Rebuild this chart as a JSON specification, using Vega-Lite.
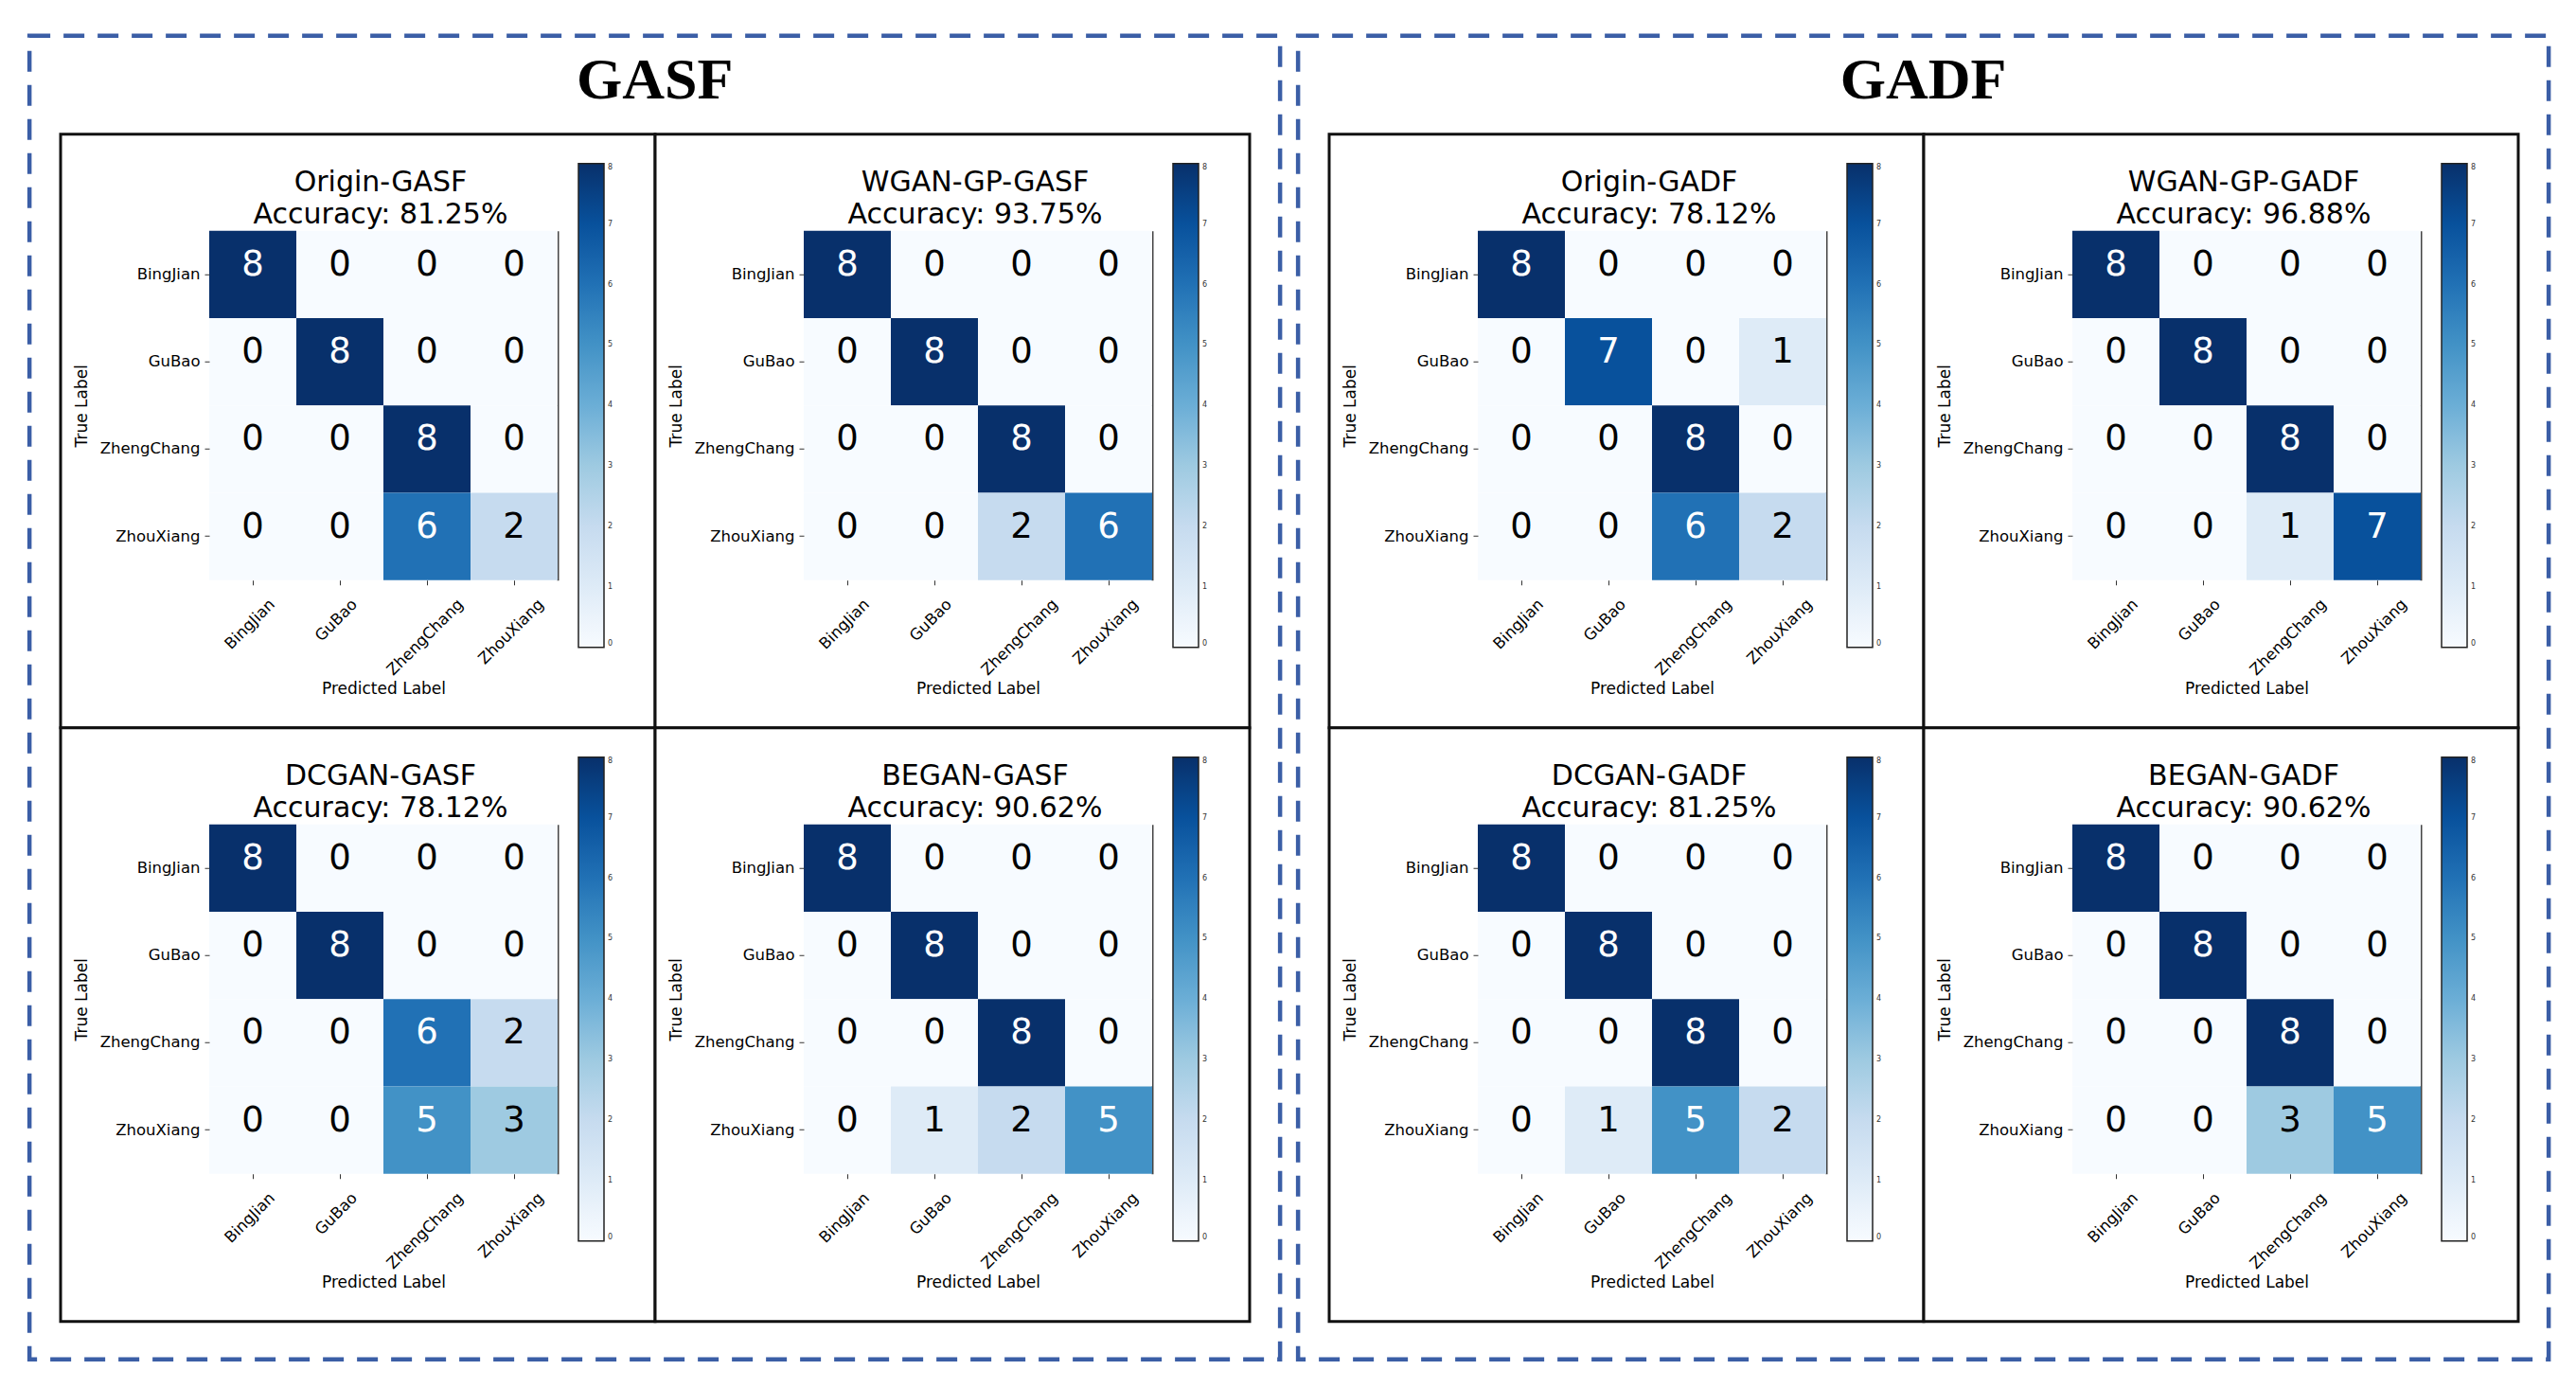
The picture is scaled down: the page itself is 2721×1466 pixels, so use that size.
{
  "$schema": "https://vega.github.io/schema/vega-lite/v6.json",
  "background": "white",
  "padding": {"left": 28.75, "top": 34.75, "right": 26, "bottom": 29},
  "datasets": {
    "groups": [{"group": "GASF"}, {"group": "GADF"}],
    "cm": [
      {"panel":"Origin-GASF","actual":"BingJian","predicted":"BingJian","count":8},
      {"panel":"Origin-GASF","actual":"BingJian","predicted":"GuBao","count":0},
      {"panel":"Origin-GASF","actual":"BingJian","predicted":"ZhengChang","count":0},
      {"panel":"Origin-GASF","actual":"BingJian","predicted":"ZhouXiang","count":0},
      {"panel":"Origin-GASF","actual":"GuBao","predicted":"BingJian","count":0},
      {"panel":"Origin-GASF","actual":"GuBao","predicted":"GuBao","count":8},
      {"panel":"Origin-GASF","actual":"GuBao","predicted":"ZhengChang","count":0},
      {"panel":"Origin-GASF","actual":"GuBao","predicted":"ZhouXiang","count":0},
      {"panel":"Origin-GASF","actual":"ZhengChang","predicted":"BingJian","count":0},
      {"panel":"Origin-GASF","actual":"ZhengChang","predicted":"GuBao","count":0},
      {"panel":"Origin-GASF","actual":"ZhengChang","predicted":"ZhengChang","count":8},
      {"panel":"Origin-GASF","actual":"ZhengChang","predicted":"ZhouXiang","count":0},
      {"panel":"Origin-GASF","actual":"ZhouXiang","predicted":"BingJian","count":0},
      {"panel":"Origin-GASF","actual":"ZhouXiang","predicted":"GuBao","count":0},
      {"panel":"Origin-GASF","actual":"ZhouXiang","predicted":"ZhengChang","count":6},
      {"panel":"Origin-GASF","actual":"ZhouXiang","predicted":"ZhouXiang","count":2},

      {"panel":"WGAN-GP-GASF","actual":"BingJian","predicted":"BingJian","count":8},
      {"panel":"WGAN-GP-GASF","actual":"BingJian","predicted":"GuBao","count":0},
      {"panel":"WGAN-GP-GASF","actual":"BingJian","predicted":"ZhengChang","count":0},
      {"panel":"WGAN-GP-GASF","actual":"BingJian","predicted":"ZhouXiang","count":0},
      {"panel":"WGAN-GP-GASF","actual":"GuBao","predicted":"BingJian","count":0},
      {"panel":"WGAN-GP-GASF","actual":"GuBao","predicted":"GuBao","count":8},
      {"panel":"WGAN-GP-GASF","actual":"GuBao","predicted":"ZhengChang","count":0},
      {"panel":"WGAN-GP-GASF","actual":"GuBao","predicted":"ZhouXiang","count":0},
      {"panel":"WGAN-GP-GASF","actual":"ZhengChang","predicted":"BingJian","count":0},
      {"panel":"WGAN-GP-GASF","actual":"ZhengChang","predicted":"GuBao","count":0},
      {"panel":"WGAN-GP-GASF","actual":"ZhengChang","predicted":"ZhengChang","count":8},
      {"panel":"WGAN-GP-GASF","actual":"ZhengChang","predicted":"ZhouXiang","count":0},
      {"panel":"WGAN-GP-GASF","actual":"ZhouXiang","predicted":"BingJian","count":0},
      {"panel":"WGAN-GP-GASF","actual":"ZhouXiang","predicted":"GuBao","count":0},
      {"panel":"WGAN-GP-GASF","actual":"ZhouXiang","predicted":"ZhengChang","count":2},
      {"panel":"WGAN-GP-GASF","actual":"ZhouXiang","predicted":"ZhouXiang","count":6},

      {"panel":"DCGAN-GASF","actual":"BingJian","predicted":"BingJian","count":8},
      {"panel":"DCGAN-GASF","actual":"BingJian","predicted":"GuBao","count":0},
      {"panel":"DCGAN-GASF","actual":"BingJian","predicted":"ZhengChang","count":0},
      {"panel":"DCGAN-GASF","actual":"BingJian","predicted":"ZhouXiang","count":0},
      {"panel":"DCGAN-GASF","actual":"GuBao","predicted":"BingJian","count":0},
      {"panel":"DCGAN-GASF","actual":"GuBao","predicted":"GuBao","count":8},
      {"panel":"DCGAN-GASF","actual":"GuBao","predicted":"ZhengChang","count":0},
      {"panel":"DCGAN-GASF","actual":"GuBao","predicted":"ZhouXiang","count":0},
      {"panel":"DCGAN-GASF","actual":"ZhengChang","predicted":"BingJian","count":0},
      {"panel":"DCGAN-GASF","actual":"ZhengChang","predicted":"GuBao","count":0},
      {"panel":"DCGAN-GASF","actual":"ZhengChang","predicted":"ZhengChang","count":6},
      {"panel":"DCGAN-GASF","actual":"ZhengChang","predicted":"ZhouXiang","count":2},
      {"panel":"DCGAN-GASF","actual":"ZhouXiang","predicted":"BingJian","count":0},
      {"panel":"DCGAN-GASF","actual":"ZhouXiang","predicted":"GuBao","count":0},
      {"panel":"DCGAN-GASF","actual":"ZhouXiang","predicted":"ZhengChang","count":5},
      {"panel":"DCGAN-GASF","actual":"ZhouXiang","predicted":"ZhouXiang","count":3},

      {"panel":"BEGAN-GASF","actual":"BingJian","predicted":"BingJian","count":8},
      {"panel":"BEGAN-GASF","actual":"BingJian","predicted":"GuBao","count":0},
      {"panel":"BEGAN-GASF","actual":"BingJian","predicted":"ZhengChang","count":0},
      {"panel":"BEGAN-GASF","actual":"BingJian","predicted":"ZhouXiang","count":0},
      {"panel":"BEGAN-GASF","actual":"GuBao","predicted":"BingJian","count":0},
      {"panel":"BEGAN-GASF","actual":"GuBao","predicted":"GuBao","count":8},
      {"panel":"BEGAN-GASF","actual":"GuBao","predicted":"ZhengChang","count":0},
      {"panel":"BEGAN-GASF","actual":"GuBao","predicted":"ZhouXiang","count":0},
      {"panel":"BEGAN-GASF","actual":"ZhengChang","predicted":"BingJian","count":0},
      {"panel":"BEGAN-GASF","actual":"ZhengChang","predicted":"GuBao","count":0},
      {"panel":"BEGAN-GASF","actual":"ZhengChang","predicted":"ZhengChang","count":8},
      {"panel":"BEGAN-GASF","actual":"ZhengChang","predicted":"ZhouXiang","count":0},
      {"panel":"BEGAN-GASF","actual":"ZhouXiang","predicted":"BingJian","count":0},
      {"panel":"BEGAN-GASF","actual":"ZhouXiang","predicted":"GuBao","count":1},
      {"panel":"BEGAN-GASF","actual":"ZhouXiang","predicted":"ZhengChang","count":2},
      {"panel":"BEGAN-GASF","actual":"ZhouXiang","predicted":"ZhouXiang","count":5},

      {"panel":"Origin-GADF","actual":"BingJian","predicted":"BingJian","count":8},
      {"panel":"Origin-GADF","actual":"BingJian","predicted":"GuBao","count":0},
      {"panel":"Origin-GADF","actual":"BingJian","predicted":"ZhengChang","count":0},
      {"panel":"Origin-GADF","actual":"BingJian","predicted":"ZhouXiang","count":0},
      {"panel":"Origin-GADF","actual":"GuBao","predicted":"BingJian","count":0},
      {"panel":"Origin-GADF","actual":"GuBao","predicted":"GuBao","count":7},
      {"panel":"Origin-GADF","actual":"GuBao","predicted":"ZhengChang","count":0},
      {"panel":"Origin-GADF","actual":"GuBao","predicted":"ZhouXiang","count":1},
      {"panel":"Origin-GADF","actual":"ZhengChang","predicted":"BingJian","count":0},
      {"panel":"Origin-GADF","actual":"ZhengChang","predicted":"GuBao","count":0},
      {"panel":"Origin-GADF","actual":"ZhengChang","predicted":"ZhengChang","count":8},
      {"panel":"Origin-GADF","actual":"ZhengChang","predicted":"ZhouXiang","count":0},
      {"panel":"Origin-GADF","actual":"ZhouXiang","predicted":"BingJian","count":0},
      {"panel":"Origin-GADF","actual":"ZhouXiang","predicted":"GuBao","count":0},
      {"panel":"Origin-GADF","actual":"ZhouXiang","predicted":"ZhengChang","count":6},
      {"panel":"Origin-GADF","actual":"ZhouXiang","predicted":"ZhouXiang","count":2},

      {"panel":"WGAN-GP-GADF","actual":"BingJian","predicted":"BingJian","count":8},
      {"panel":"WGAN-GP-GADF","actual":"BingJian","predicted":"GuBao","count":0},
      {"panel":"WGAN-GP-GADF","actual":"BingJian","predicted":"ZhengChang","count":0},
      {"panel":"WGAN-GP-GADF","actual":"BingJian","predicted":"ZhouXiang","count":0},
      {"panel":"WGAN-GP-GADF","actual":"GuBao","predicted":"BingJian","count":0},
      {"panel":"WGAN-GP-GADF","actual":"GuBao","predicted":"GuBao","count":8},
      {"panel":"WGAN-GP-GADF","actual":"GuBao","predicted":"ZhengChang","count":0},
      {"panel":"WGAN-GP-GADF","actual":"GuBao","predicted":"ZhouXiang","count":0},
      {"panel":"WGAN-GP-GADF","actual":"ZhengChang","predicted":"BingJian","count":0},
      {"panel":"WGAN-GP-GADF","actual":"ZhengChang","predicted":"GuBao","count":0},
      {"panel":"WGAN-GP-GADF","actual":"ZhengChang","predicted":"ZhengChang","count":8},
      {"panel":"WGAN-GP-GADF","actual":"ZhengChang","predicted":"ZhouXiang","count":0},
      {"panel":"WGAN-GP-GADF","actual":"ZhouXiang","predicted":"BingJian","count":0},
      {"panel":"WGAN-GP-GADF","actual":"ZhouXiang","predicted":"GuBao","count":0},
      {"panel":"WGAN-GP-GADF","actual":"ZhouXiang","predicted":"ZhengChang","count":1},
      {"panel":"WGAN-GP-GADF","actual":"ZhouXiang","predicted":"ZhouXiang","count":7},

      {"panel":"DCGAN-GADF","actual":"BingJian","predicted":"BingJian","count":8},
      {"panel":"DCGAN-GADF","actual":"BingJian","predicted":"GuBao","count":0},
      {"panel":"DCGAN-GADF","actual":"BingJian","predicted":"ZhengChang","count":0},
      {"panel":"DCGAN-GADF","actual":"BingJian","predicted":"ZhouXiang","count":0},
      {"panel":"DCGAN-GADF","actual":"GuBao","predicted":"BingJian","count":0},
      {"panel":"DCGAN-GADF","actual":"GuBao","predicted":"GuBao","count":8},
      {"panel":"DCGAN-GADF","actual":"GuBao","predicted":"ZhengChang","count":0},
      {"panel":"DCGAN-GADF","actual":"GuBao","predicted":"ZhouXiang","count":0},
      {"panel":"DCGAN-GADF","actual":"ZhengChang","predicted":"BingJian","count":0},
      {"panel":"DCGAN-GADF","actual":"ZhengChang","predicted":"GuBao","count":0},
      {"panel":"DCGAN-GADF","actual":"ZhengChang","predicted":"ZhengChang","count":8},
      {"panel":"DCGAN-GADF","actual":"ZhengChang","predicted":"ZhouXiang","count":0},
      {"panel":"DCGAN-GADF","actual":"ZhouXiang","predicted":"BingJian","count":0},
      {"panel":"DCGAN-GADF","actual":"ZhouXiang","predicted":"GuBao","count":1},
      {"panel":"DCGAN-GADF","actual":"ZhouXiang","predicted":"ZhengChang","count":5},
      {"panel":"DCGAN-GADF","actual":"ZhouXiang","predicted":"ZhouXiang","count":2},

      {"panel":"BEGAN-GADF","actual":"BingJian","predicted":"BingJian","count":8},
      {"panel":"BEGAN-GADF","actual":"BingJian","predicted":"GuBao","count":0},
      {"panel":"BEGAN-GADF","actual":"BingJian","predicted":"ZhengChang","count":0},
      {"panel":"BEGAN-GADF","actual":"BingJian","predicted":"ZhouXiang","count":0},
      {"panel":"BEGAN-GADF","actual":"GuBao","predicted":"BingJian","count":0},
      {"panel":"BEGAN-GADF","actual":"GuBao","predicted":"GuBao","count":8},
      {"panel":"BEGAN-GADF","actual":"GuBao","predicted":"ZhengChang","count":0},
      {"panel":"BEGAN-GADF","actual":"GuBao","predicted":"ZhouXiang","count":0},
      {"panel":"BEGAN-GADF","actual":"ZhengChang","predicted":"BingJian","count":0},
      {"panel":"BEGAN-GADF","actual":"ZhengChang","predicted":"GuBao","count":0},
      {"panel":"BEGAN-GADF","actual":"ZhengChang","predicted":"ZhengChang","count":8},
      {"panel":"BEGAN-GADF","actual":"ZhengChang","predicted":"ZhouXiang","count":0},
      {"panel":"BEGAN-GADF","actual":"ZhouXiang","predicted":"BingJian","count":0},
      {"panel":"BEGAN-GADF","actual":"ZhouXiang","predicted":"GuBao","count":0},
      {"panel":"BEGAN-GADF","actual":"ZhouXiang","predicted":"ZhengChang","count":3},
      {"panel":"BEGAN-GADF","actual":"ZhouXiang","predicted":"ZhouXiang","count":5}
    ]
  },
  "spacing": 14,
  "resolve": {"scale": {"color": "independent"}, "legend": {"color": "independent"}},
  "hconcat": [
    {
      "columns": 1,
      "align": {"row": "none", "column": "each"},
      "center": true,
      "spacing": -1299,
      "resolve": {"scale": {"color": "independent"}, "legend": {"color": "independent"}},
      "concat": [
        {
          "width": 1321, "height": 1398,
          "view": {"stroke": "#3b5ea6", "strokeWidth": 4.5, "strokeDash": [22, 14]},
          "title": {"text": "GASF", "font": "Liberation Serif", "fontSize": 62, "fontWeight": "bold", "offset": -79, "dx": 0, "lineHeight": 62},
          "data": {"name": "groups"},
          "transform": [{"filter": {"field": "group", "equal": "GASF"}}],
          "mark": {"type": "text", "opacity": 0},
          "encoding": {"text": {"field": "group"}}
        },
        {
          "columns": 2,
          "align": "none",
          "spacing": -4,
          "resolve": {"scale": {"color": "independent"}, "legend": {"color": "independent"}},
          "concat": [
            {
              "width": 628, "height": 627,
              "view": {"stroke": "#111", "strokeWidth": 3, "fill": "white"},
              "title": {"text": ["Origin-GASF", "Accuracy: 81.25%"]},
              "data": {"name": "cm"},
              "transform": [{"filter": {"field": "panel", "equal": "Origin-GASF"}}],
              "encoding": {
                "x": {"field": "predicted", "type": "nominal", "title": "Predicted Label", "scale": {"domain": ["BingJian","GuBao","ZhengChang","ZhouXiang"], "paddingInner": 0, "paddingOuter": 0, "rangeMin": 157, "rangeMax": 525}, "axis": {"labelFontSize": 16.5, "labelOffset": {"condition": [{"test": "datum.value === 'BingJian'", "value": 15}, {"test": "datum.value === 'GuBao'", "value": 10}, {"test": "datum.value === 'ZhengChang'", "value": 30}], "value": 23}}}
              },
              "layer": [
                {"mark": "rect", "encoding": {
                  "y": {"field": "actual", "type": "nominal", "title": "True Label", "scale": {"domain": ["BingJian","GuBao","ZhengChang","ZhouXiang"], "paddingInner": 0, "paddingOuter": 0, "rangeMin": 102, "rangeMax": 471}, "axis": {"orient": "left", "labelFontSize": 16.5}},
                  "color": {"field": "count", "type": "quantitative", "scale": {"type": "linear", "domain": [0,1,2,3,4,5,6,7,8], "range": ["#f7fbff","#deebf7","#c6dbef","#9ecae1","#6baed6","#4292c6","#2171b5","#08519c","#08306b"], "interpolate": "rgb"}, "legend": {"title": null, "orient": "none", "legendX": 547, "legendY": 31, "direction": "vertical", "gradientLength": 511, "gradientThickness": 27, "values": [0,1,2,3,4,5,6,7,8], "labelFontSize": 8, "labelOffset": 4, "labelColor": "#333", "gradientStrokeColor": "#222", "gradientStrokeWidth": 1.5, "padding": 0}}}},
                {"mark": {"type": "text", "fontSize": 37, "dy": -10}, "encoding": {
                  "y": {"field": "actual", "type": "nominal", "scale": {"domain": ["BingJian","GuBao","ZhengChang","ZhouXiang"], "paddingInner": 0, "paddingOuter": 0, "rangeMin": 102, "rangeMax": 471}, "axis": {"orient": "right", "title": null}},
                  "text": {"field": "count", "type": "quantitative"},
                  "color": {"condition": {"test": "datum.count > 4", "value": "white"}, "value": "black"}}}
              ],
              "resolve": {"axis": {"y": "independent"}}
            },
            {
              "width": 628, "height": 627,
              "view": {"stroke": "#111", "strokeWidth": 3, "fill": "white"},
              "title": {"text": ["WGAN-GP-GASF", "Accuracy: 93.75%"]},
              "data": {"name": "cm"},
              "transform": [{"filter": {"field": "panel", "equal": "WGAN-GP-GASF"}}],
              "encoding": {
                "x": {"field": "predicted", "type": "nominal", "title": "Predicted Label", "scale": {"domain": ["BingJian","GuBao","ZhengChang","ZhouXiang"], "paddingInner": 0, "paddingOuter": 0, "rangeMin": 157, "rangeMax": 525}, "axis": {"labelFontSize": 16.5, "labelOffset": {"condition": [{"test": "datum.value === 'BingJian'", "value": 15}, {"test": "datum.value === 'GuBao'", "value": 10}, {"test": "datum.value === 'ZhengChang'", "value": 30}], "value": 23}}}
              },
              "layer": [
                {"mark": "rect", "encoding": {
                  "y": {"field": "actual", "type": "nominal", "title": "True Label", "scale": {"domain": ["BingJian","GuBao","ZhengChang","ZhouXiang"], "paddingInner": 0, "paddingOuter": 0, "rangeMin": 102, "rangeMax": 471}, "axis": {"orient": "left", "labelFontSize": 16.5}},
                  "color": {"field": "count", "type": "quantitative", "scale": {"type": "linear", "domain": [0,1,2,3,4,5,6,7,8], "range": ["#f7fbff","#deebf7","#c6dbef","#9ecae1","#6baed6","#4292c6","#2171b5","#08519c","#08306b"], "interpolate": "rgb"}, "legend": {"title": null, "orient": "none", "legendX": 547, "legendY": 31, "direction": "vertical", "gradientLength": 511, "gradientThickness": 27, "values": [0,1,2,3,4,5,6,7,8], "labelFontSize": 8, "labelOffset": 4, "labelColor": "#333", "gradientStrokeColor": "#222", "gradientStrokeWidth": 1.5, "padding": 0}}}},
                {"mark": {"type": "text", "fontSize": 37, "dy": -10}, "encoding": {
                  "y": {"field": "actual", "type": "nominal", "scale": {"domain": ["BingJian","GuBao","ZhengChang","ZhouXiang"], "paddingInner": 0, "paddingOuter": 0, "rangeMin": 102, "rangeMax": 471}, "axis": {"orient": "right", "title": null}},
                  "text": {"field": "count", "type": "quantitative"},
                  "color": {"condition": {"test": "datum.count > 4", "value": "white"}, "value": "black"}}}
              ],
              "resolve": {"axis": {"y": "independent"}}
            },
            {
              "width": 628, "height": 627,
              "view": {"stroke": "#111", "strokeWidth": 3, "fill": "white"},
              "title": {"text": ["DCGAN-GASF", "Accuracy: 78.12%"]},
              "data": {"name": "cm"},
              "transform": [{"filter": {"field": "panel", "equal": "DCGAN-GASF"}}],
              "encoding": {
                "x": {"field": "predicted", "type": "nominal", "title": "Predicted Label", "scale": {"domain": ["BingJian","GuBao","ZhengChang","ZhouXiang"], "paddingInner": 0, "paddingOuter": 0, "rangeMin": 157, "rangeMax": 525}, "axis": {"labelFontSize": 16.5, "labelOffset": {"condition": [{"test": "datum.value === 'BingJian'", "value": 15}, {"test": "datum.value === 'GuBao'", "value": 10}, {"test": "datum.value === 'ZhengChang'", "value": 30}], "value": 23}}}
              },
              "layer": [
                {"mark": "rect", "encoding": {
                  "y": {"field": "actual", "type": "nominal", "title": "True Label", "scale": {"domain": ["BingJian","GuBao","ZhengChang","ZhouXiang"], "paddingInner": 0, "paddingOuter": 0, "rangeMin": 102, "rangeMax": 471}, "axis": {"orient": "left", "labelFontSize": 16.5}},
                  "color": {"field": "count", "type": "quantitative", "scale": {"type": "linear", "domain": [0,1,2,3,4,5,6,7,8], "range": ["#f7fbff","#deebf7","#c6dbef","#9ecae1","#6baed6","#4292c6","#2171b5","#08519c","#08306b"], "interpolate": "rgb"}, "legend": {"title": null, "orient": "none", "legendX": 547, "legendY": 31, "direction": "vertical", "gradientLength": 511, "gradientThickness": 27, "values": [0,1,2,3,4,5,6,7,8], "labelFontSize": 8, "labelOffset": 4, "labelColor": "#333", "gradientStrokeColor": "#222", "gradientStrokeWidth": 1.5, "padding": 0}}}},
                {"mark": {"type": "text", "fontSize": 37, "dy": -10}, "encoding": {
                  "y": {"field": "actual", "type": "nominal", "scale": {"domain": ["BingJian","GuBao","ZhengChang","ZhouXiang"], "paddingInner": 0, "paddingOuter": 0, "rangeMin": 102, "rangeMax": 471}, "axis": {"orient": "right", "title": null}},
                  "text": {"field": "count", "type": "quantitative"},
                  "color": {"condition": {"test": "datum.count > 4", "value": "white"}, "value": "black"}}}
              ],
              "resolve": {"axis": {"y": "independent"}}
            },
            {
              "width": 628, "height": 627,
              "view": {"stroke": "#111", "strokeWidth": 3, "fill": "white"},
              "title": {"text": ["BEGAN-GASF", "Accuracy: 90.62%"]},
              "data": {"name": "cm"},
              "transform": [{"filter": {"field": "panel", "equal": "BEGAN-GASF"}}],
              "encoding": {
                "x": {"field": "predicted", "type": "nominal", "title": "Predicted Label", "scale": {"domain": ["BingJian","GuBao","ZhengChang","ZhouXiang"], "paddingInner": 0, "paddingOuter": 0, "rangeMin": 157, "rangeMax": 525}, "axis": {"labelFontSize": 16.5, "labelOffset": {"condition": [{"test": "datum.value === 'BingJian'", "value": 15}, {"test": "datum.value === 'GuBao'", "value": 10}, {"test": "datum.value === 'ZhengChang'", "value": 30}], "value": 23}}}
              },
              "layer": [
                {"mark": "rect", "encoding": {
                  "y": {"field": "actual", "type": "nominal", "title": "True Label", "scale": {"domain": ["BingJian","GuBao","ZhengChang","ZhouXiang"], "paddingInner": 0, "paddingOuter": 0, "rangeMin": 102, "rangeMax": 471}, "axis": {"orient": "left", "labelFontSize": 16.5}},
                  "color": {"field": "count", "type": "quantitative", "scale": {"type": "linear", "domain": [0,1,2,3,4,5,6,7,8], "range": ["#f7fbff","#deebf7","#c6dbef","#9ecae1","#6baed6","#4292c6","#2171b5","#08519c","#08306b"], "interpolate": "rgb"}, "legend": {"title": null, "orient": "none", "legendX": 547, "legendY": 31, "direction": "vertical", "gradientLength": 511, "gradientThickness": 27, "values": [0,1,2,3,4,5,6,7,8], "labelFontSize": 8, "labelOffset": 4, "labelColor": "#333", "gradientStrokeColor": "#222", "gradientStrokeWidth": 1.5, "padding": 0}}}},
                {"mark": {"type": "text", "fontSize": 37, "dy": -10}, "encoding": {
                  "y": {"field": "actual", "type": "nominal", "scale": {"domain": ["BingJian","GuBao","ZhengChang","ZhouXiang"], "paddingInner": 0, "paddingOuter": 0, "rangeMin": 102, "rangeMax": 471}, "axis": {"orient": "right", "title": null}},
                  "text": {"field": "count", "type": "quantitative"},
                  "color": {"condition": {"test": "datum.count > 4", "value": "white"}, "value": "black"}}}
              ],
              "resolve": {"axis": {"y": "independent"}}
            }
          ]
        }
      ]
    },
    {
      "columns": 1,
      "align": {"row": "none", "column": "each"},
      "center": true,
      "spacing": -1299,
      "resolve": {"scale": {"color": "independent"}, "legend": {"color": "independent"}},
      "concat": [
        {
          "width": 1321, "height": 1398,
          "view": {"stroke": "#3b5ea6", "strokeWidth": 4.5, "strokeDash": [22, 14]},
          "title": {"text": "GADF", "font": "Liberation Serif", "fontSize": 62, "fontWeight": "bold", "offset": -79, "dx": 0, "lineHeight": 62},
          "data": {"name": "groups"},
          "transform": [{"filter": {"field": "group", "equal": "GADF"}}],
          "mark": {"type": "text", "opacity": 0},
          "encoding": {"text": {"field": "group"}}
        },
        {
          "columns": 2,
          "align": "none",
          "spacing": -4,
          "resolve": {"scale": {"color": "independent"}, "legend": {"color": "independent"}},
          "concat": [
            {
              "width": 628, "height": 627,
              "view": {"stroke": "#111", "strokeWidth": 3, "fill": "white"},
              "title": {"text": ["Origin-GADF", "Accuracy: 78.12%"]},
              "data": {"name": "cm"},
              "transform": [{"filter": {"field": "panel", "equal": "Origin-GADF"}}],
              "encoding": {
                "x": {"field": "predicted", "type": "nominal", "title": "Predicted Label", "scale": {"domain": ["BingJian","GuBao","ZhengChang","ZhouXiang"], "paddingInner": 0, "paddingOuter": 0, "rangeMin": 157, "rangeMax": 525}, "axis": {"labelFontSize": 16.5, "labelOffset": {"condition": [{"test": "datum.value === 'BingJian'", "value": 15}, {"test": "datum.value === 'GuBao'", "value": 10}, {"test": "datum.value === 'ZhengChang'", "value": 30}], "value": 23}}}
              },
              "layer": [
                {"mark": "rect", "encoding": {
                  "y": {"field": "actual", "type": "nominal", "title": "True Label", "scale": {"domain": ["BingJian","GuBao","ZhengChang","ZhouXiang"], "paddingInner": 0, "paddingOuter": 0, "rangeMin": 102, "rangeMax": 471}, "axis": {"orient": "left", "labelFontSize": 16.5}},
                  "color": {"field": "count", "type": "quantitative", "scale": {"type": "linear", "domain": [0,1,2,3,4,5,6,7,8], "range": ["#f7fbff","#deebf7","#c6dbef","#9ecae1","#6baed6","#4292c6","#2171b5","#08519c","#08306b"], "interpolate": "rgb"}, "legend": {"title": null, "orient": "none", "legendX": 547, "legendY": 31, "direction": "vertical", "gradientLength": 511, "gradientThickness": 27, "values": [0,1,2,3,4,5,6,7,8], "labelFontSize": 8, "labelOffset": 4, "labelColor": "#333", "gradientStrokeColor": "#222", "gradientStrokeWidth": 1.5, "padding": 0}}}},
                {"mark": {"type": "text", "fontSize": 37, "dy": -10}, "encoding": {
                  "y": {"field": "actual", "type": "nominal", "scale": {"domain": ["BingJian","GuBao","ZhengChang","ZhouXiang"], "paddingInner": 0, "paddingOuter": 0, "rangeMin": 102, "rangeMax": 471}, "axis": {"orient": "right", "title": null}},
                  "text": {"field": "count", "type": "quantitative"},
                  "color": {"condition": {"test": "datum.count > 4", "value": "white"}, "value": "black"}}}
              ],
              "resolve": {"axis": {"y": "independent"}}
            },
            {
              "width": 628, "height": 627,
              "view": {"stroke": "#111", "strokeWidth": 3, "fill": "white"},
              "title": {"text": ["WGAN-GP-GADF", "Accuracy: 96.88%"]},
              "data": {"name": "cm"},
              "transform": [{"filter": {"field": "panel", "equal": "WGAN-GP-GADF"}}],
              "encoding": {
                "x": {"field": "predicted", "type": "nominal", "title": "Predicted Label", "scale": {"domain": ["BingJian","GuBao","ZhengChang","ZhouXiang"], "paddingInner": 0, "paddingOuter": 0, "rangeMin": 157, "rangeMax": 525}, "axis": {"labelFontSize": 16.5, "labelOffset": {"condition": [{"test": "datum.value === 'BingJian'", "value": 15}, {"test": "datum.value === 'GuBao'", "value": 10}, {"test": "datum.value === 'ZhengChang'", "value": 30}], "value": 23}}}
              },
              "layer": [
                {"mark": "rect", "encoding": {
                  "y": {"field": "actual", "type": "nominal", "title": "True Label", "scale": {"domain": ["BingJian","GuBao","ZhengChang","ZhouXiang"], "paddingInner": 0, "paddingOuter": 0, "rangeMin": 102, "rangeMax": 471}, "axis": {"orient": "left", "labelFontSize": 16.5}},
                  "color": {"field": "count", "type": "quantitative", "scale": {"type": "linear", "domain": [0,1,2,3,4,5,6,7,8], "range": ["#f7fbff","#deebf7","#c6dbef","#9ecae1","#6baed6","#4292c6","#2171b5","#08519c","#08306b"], "interpolate": "rgb"}, "legend": {"title": null, "orient": "none", "legendX": 547, "legendY": 31, "direction": "vertical", "gradientLength": 511, "gradientThickness": 27, "values": [0,1,2,3,4,5,6,7,8], "labelFontSize": 8, "labelOffset": 4, "labelColor": "#333", "gradientStrokeColor": "#222", "gradientStrokeWidth": 1.5, "padding": 0}}}},
                {"mark": {"type": "text", "fontSize": 37, "dy": -10}, "encoding": {
                  "y": {"field": "actual", "type": "nominal", "scale": {"domain": ["BingJian","GuBao","ZhengChang","ZhouXiang"], "paddingInner": 0, "paddingOuter": 0, "rangeMin": 102, "rangeMax": 471}, "axis": {"orient": "right", "title": null}},
                  "text": {"field": "count", "type": "quantitative"},
                  "color": {"condition": {"test": "datum.count > 4", "value": "white"}, "value": "black"}}}
              ],
              "resolve": {"axis": {"y": "independent"}}
            },
            {
              "width": 628, "height": 627,
              "view": {"stroke": "#111", "strokeWidth": 3, "fill": "white"},
              "title": {"text": ["DCGAN-GADF", "Accuracy: 81.25%"]},
              "data": {"name": "cm"},
              "transform": [{"filter": {"field": "panel", "equal": "DCGAN-GADF"}}],
              "encoding": {
                "x": {"field": "predicted", "type": "nominal", "title": "Predicted Label", "scale": {"domain": ["BingJian","GuBao","ZhengChang","ZhouXiang"], "paddingInner": 0, "paddingOuter": 0, "rangeMin": 157, "rangeMax": 525}, "axis": {"labelFontSize": 16.5, "labelOffset": {"condition": [{"test": "datum.value === 'BingJian'", "value": 15}, {"test": "datum.value === 'GuBao'", "value": 10}, {"test": "datum.value === 'ZhengChang'", "value": 30}], "value": 23}}}
              },
              "layer": [
                {"mark": "rect", "encoding": {
                  "y": {"field": "actual", "type": "nominal", "title": "True Label", "scale": {"domain": ["BingJian","GuBao","ZhengChang","ZhouXiang"], "paddingInner": 0, "paddingOuter": 0, "rangeMin": 102, "rangeMax": 471}, "axis": {"orient": "left", "labelFontSize": 16.5}},
                  "color": {"field": "count", "type": "quantitative", "scale": {"type": "linear", "domain": [0,1,2,3,4,5,6,7,8], "range": ["#f7fbff","#deebf7","#c6dbef","#9ecae1","#6baed6","#4292c6","#2171b5","#08519c","#08306b"], "interpolate": "rgb"}, "legend": {"title": null, "orient": "none", "legendX": 547, "legendY": 31, "direction": "vertical", "gradientLength": 511, "gradientThickness": 27, "values": [0,1,2,3,4,5,6,7,8], "labelFontSize": 8, "labelOffset": 4, "labelColor": "#333", "gradientStrokeColor": "#222", "gradientStrokeWidth": 1.5, "padding": 0}}}},
                {"mark": {"type": "text", "fontSize": 37, "dy": -10}, "encoding": {
                  "y": {"field": "actual", "type": "nominal", "scale": {"domain": ["BingJian","GuBao","ZhengChang","ZhouXiang"], "paddingInner": 0, "paddingOuter": 0, "rangeMin": 102, "rangeMax": 471}, "axis": {"orient": "right", "title": null}},
                  "text": {"field": "count", "type": "quantitative"},
                  "color": {"condition": {"test": "datum.count > 4", "value": "white"}, "value": "black"}}}
              ],
              "resolve": {"axis": {"y": "independent"}}
            },
            {
              "width": 628, "height": 627,
              "view": {"stroke": "#111", "strokeWidth": 3, "fill": "white"},
              "title": {"text": ["BEGAN-GADF", "Accuracy: 90.62%"]},
              "data": {"name": "cm"},
              "transform": [{"filter": {"field": "panel", "equal": "BEGAN-GADF"}}],
              "encoding": {
                "x": {"field": "predicted", "type": "nominal", "title": "Predicted Label", "scale": {"domain": ["BingJian","GuBao","ZhengChang","ZhouXiang"], "paddingInner": 0, "paddingOuter": 0, "rangeMin": 157, "rangeMax": 525}, "axis": {"labelFontSize": 16.5, "labelOffset": {"condition": [{"test": "datum.value === 'BingJian'", "value": 15}, {"test": "datum.value === 'GuBao'", "value": 10}, {"test": "datum.value === 'ZhengChang'", "value": 30}], "value": 23}}}
              },
              "layer": [
                {"mark": "rect", "encoding": {
                  "y": {"field": "actual", "type": "nominal", "title": "True Label", "scale": {"domain": ["BingJian","GuBao","ZhengChang","ZhouXiang"], "paddingInner": 0, "paddingOuter": 0, "rangeMin": 102, "rangeMax": 471}, "axis": {"orient": "left", "labelFontSize": 16.5}},
                  "color": {"field": "count", "type": "quantitative", "scale": {"type": "linear", "domain": [0,1,2,3,4,5,6,7,8], "range": ["#f7fbff","#deebf7","#c6dbef","#9ecae1","#6baed6","#4292c6","#2171b5","#08519c","#08306b"], "interpolate": "rgb"}, "legend": {"title": null, "orient": "none", "legendX": 547, "legendY": 31, "direction": "vertical", "gradientLength": 511, "gradientThickness": 27, "values": [0,1,2,3,4,5,6,7,8], "labelFontSize": 8, "labelOffset": 4, "labelColor": "#333", "gradientStrokeColor": "#222", "gradientStrokeWidth": 1.5, "padding": 0}}}},
                {"mark": {"type": "text", "fontSize": 37, "dy": -10}, "encoding": {
                  "y": {"field": "actual", "type": "nominal", "scale": {"domain": ["BingJian","GuBao","ZhengChang","ZhouXiang"], "paddingInner": 0, "paddingOuter": 0, "rangeMin": 102, "rangeMax": 471}, "axis": {"orient": "right", "title": null}},
                  "text": {"field": "count", "type": "quantitative"},
                  "color": {"condition": {"test": "datum.count > 4", "value": "white"}, "value": "black"}}}
              ],
              "resolve": {"axis": {"y": "independent"}}
            }
          ]
        }
      ]
    }
  ],
  "config": {
    "font": "DejaVu Sans",
    "view": {"stroke": null},
    "text": {"font": "DejaVu Sans"},
    "title": {"font": "DejaVu Sans", "fontSize": 30, "fontWeight": "normal", "baseline": "alphabetic", "offset": -100, "dx": 24, "lineHeight": 34, "anchor": "middle", "frame": "group", "color": "black"},
    "axis": {"grid": false, "domain": false, "labelFont": "DejaVu Sans", "labelColor": "black", "titleFont": "DejaVu Sans", "titleColor": "black", "titleFontWeight": "normal", "labelFontSize": 16.5, "titleFontSize": 17, "tickColor": "#333", "tickSize": 5, "labelOverlap": false, "labelBound": false},
    "axisBottom": {"offset": -156, "labelAngle": -45, "labelAlign": "right", "labelBaseline": "top", "labelPadding": 12, "titlePadding": 3, "labelFontSize": 16.5},
    "axisLeft": {"offset": -157, "labelPadding": 5, "titlePadding": 10, "labelFontSize": 16.5},
    "axisRight": {"offset": -103, "domain": true, "domainColor": "#444", "domainWidth": 2, "labels": false, "ticks": false}
  }
}
